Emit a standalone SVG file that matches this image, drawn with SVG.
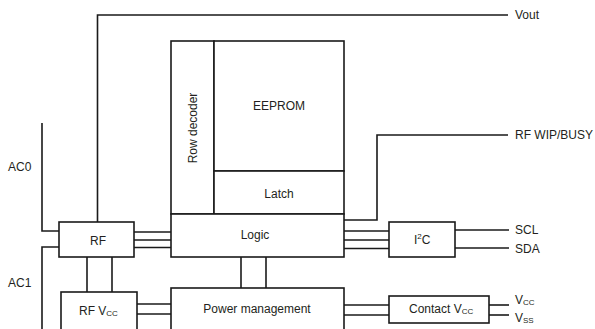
<svg xmlns="http://www.w3.org/2000/svg" width="595" height="329" viewBox="0 0 595 329">
<style>
.b{fill:#fff;stroke:#1a1a1a;stroke-width:1.6}
.c{fill:none;stroke:#1a1a1a;stroke-width:1.6}
text{font-family:"Liberation Sans",Arial,sans-serif;font-size:12px;fill:#231f20}
.m{text-anchor:middle;dominant-baseline:central}
.l{dominant-baseline:central}
.s{font-size:8px}
</style>
<rect width="595" height="329" fill="#fff"/>
<g id="connectors">
<polyline class="c" points="97.5,222 97.5,15 508,15"/>
<polyline class="c" points="344,220 377,220 377,135 508,135"/>
<polyline class="c" points="42,123 42,231 59,231"/>
<polyline class="c" points="59,247 42,247 42,330"/>
<line class="c" x1="134" y1="232" x2="171" y2="232"/>
<line class="c" x1="134" y1="240" x2="171" y2="240"/>
<line class="c" x1="134" y1="247.5" x2="171" y2="247.5"/>
<line class="c" x1="344" y1="231" x2="389" y2="231"/>
<line class="c" x1="344" y1="240" x2="389" y2="240"/>
<line class="c" x1="344" y1="248.5" x2="389" y2="248.5"/>
<line class="c" x1="241" y1="257" x2="241" y2="288"/>
<line class="c" x1="266" y1="257" x2="266" y2="288"/>
<line class="c" x1="87" y1="257" x2="87" y2="292"/>
<line class="c" x1="112" y1="257" x2="112" y2="292"/>
<line class="c" x1="137" y1="304" x2="171" y2="304"/>
<line class="c" x1="137" y1="314" x2="171" y2="314"/>
<line class="c" x1="344" y1="305" x2="389" y2="305"/>
<line class="c" x1="344" y1="315" x2="389" y2="315"/>
<line class="c" x1="455" y1="230" x2="509" y2="230"/>
<line class="c" x1="455" y1="248" x2="509" y2="248"/>
<line class="c" x1="489" y1="305" x2="509" y2="305"/>
<line class="c" x1="489" y1="315" x2="509" y2="315"/>
</g>
<g id="row-decoder"><rect class="b" x="171" y="41" width="43" height="173"/><text class="m" transform="translate(193,128) rotate(-90)">Row decoder</text></g>
<g id="eeprom"><rect class="b" x="214" y="41" width="130" height="130"/><text class="m" x="279" y="106">EEPROM</text></g>
<g id="latch"><rect class="b" x="214" y="171" width="130" height="43"/><text class="m" x="279" y="194">Latch</text></g>
<g id="logic"><rect class="b" x="171" y="214" width="173" height="43"/><text class="m" x="255" y="235">Logic</text></g>
<g id="power-management"><rect class="b" x="171" y="288" width="173" height="60"/><text class="m" x="257" y="309">Power management</text></g>
<g id="rf"><rect class="b" x="59" y="222" width="75" height="35"/><text class="m" x="98" y="241">RF</text></g>
<g id="rf-vcc"><rect class="b" x="61" y="292" width="76" height="56"/><text class="l" x="79" y="311">RF V<tspan class="s" dy="2">CC</tspan></text></g>
<g id="i2c"><rect class="b" x="389" y="222" width="66" height="35"/><text class="l" x="414" y="240">I<tspan class="s" dy="-4">2</tspan><tspan dy="4">C</tspan></text></g>
<g id="contact-vcc"><rect class="b" x="389" y="296" width="100" height="27"/><text class="l" x="409" y="309">Contact V<tspan class="s" dy="2">CC</tspan></text></g>
<g id="labels">
<text class="l" x="515" y="15">Vout</text>
<text class="l" x="515" y="135">RF WIP/BUSY</text>
<text class="l" x="515" y="230">SCL</text>
<text class="l" x="515" y="249">SDA</text>
<text class="l" x="515" y="300">V<tspan class="s" dy="2">CC</tspan></text>
<text class="l" x="515" y="318">V<tspan class="s" dy="2">SS</tspan></text>
<text class="l" x="8" y="167">AC0</text>
<text class="l" x="8" y="283">AC1</text>
</g>
</svg>
